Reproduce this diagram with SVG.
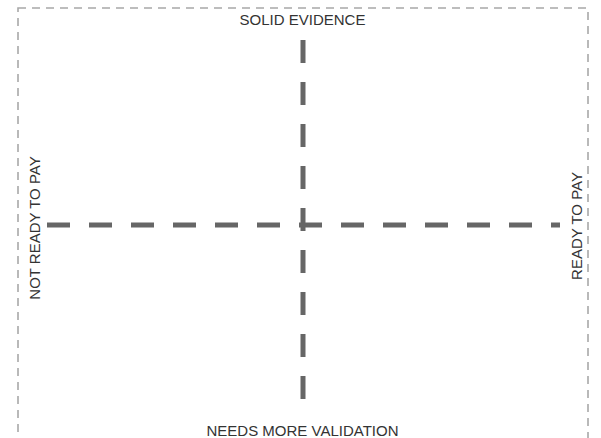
<svg xmlns="http://www.w3.org/2000/svg" width="601" height="438" viewBox="0 0 601 438">
  <style>
    .frame { fill: none; stroke: #a8a8a8; stroke-width: 1.6; stroke-dasharray: 8 6; }
    .axis { fill: none; stroke: #666666; stroke-width: 5; stroke-dasharray: 23 19; }
    .label { font-family: "Liberation Sans", Arial, sans-serif; font-size: 15px; fill: #333333; text-anchor: middle; }
  </style>
  <rect width="601" height="438" fill="#ffffff"/>
  <g id="frame">
    <rect class="frame" x="18" y="8" width="570" height="440"/>
  </g>
  <g id="connectors">
    <line class="axis" x1="47" y1="225" x2="560" y2="225"/>
    <line class="axis" x1="303" y1="40" x2="303" y2="400"/>
  </g>
  <g id="label-top">
    <text class="label" x="302.5" y="24.5">SOLID EVIDENCE</text>
  </g>
  <g id="label-bottom">
    <text class="label" x="302.5" y="436">NEEDS MORE VALIDATION</text>
  </g>
  <g id="label-left">
    <text class="label" transform="translate(40,228) rotate(-90)">NOT READY TO PAY</text>
  </g>
  <g id="label-right">
    <text class="label" transform="translate(582,226) rotate(-90)">READY TO PAY</text>
  </g>
</svg>
